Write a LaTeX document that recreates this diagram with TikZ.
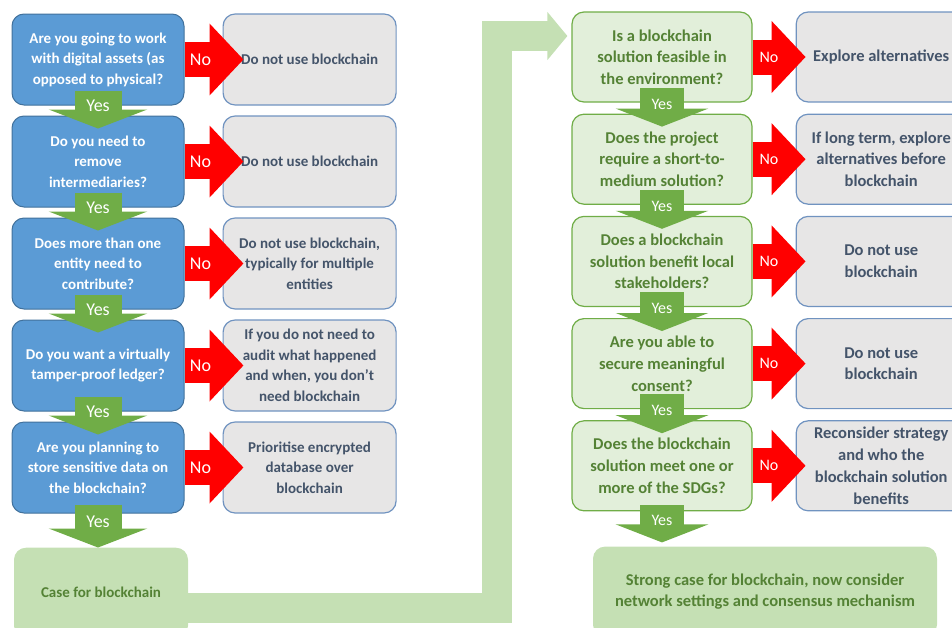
\documentclass[tikz,border=0pt]{standalone}
\usepackage{fontspec}
\setmainfont{Carlito}
\usetikzlibrary{arrows.meta, positioning, calc}
\usepackage{xcolor}
\definecolor{qBlue}{HTML}{5B9BD5}
\definecolor{qBlueLine}{HTML}{41719C}
\definecolor{outGray}{HTML}{E7E6E6}
\definecolor{outLine}{HTML}{7093C0}
\definecolor{outText}{HTML}{44546A}
\definecolor{qGreen}{HTML}{E2EFDA}
\definecolor{qGreenLine}{HTML}{70AD47}
\definecolor{greenText}{HTML}{548235}
\definecolor{caseGreen}{HTML}{C5E0B4}
\definecolor{yesGreen}{HTML}{70AD47}
\tikzset{
    font=\fontsize{15}{20.5}\selectfont\bfseries,
    % Colors
    compBlue/.style={draw=qBlueLine, fill=qBlue, text=white},
    compGray/.style={draw=outLine, fill=outGray, text=outText},
    compGreen/.style={draw=qGreenLine, fill=qGreen, text=greenText},
    compCase/.style={fill=caseGreen, text=greenText},
    bigText/.style={font=\fontsize{16.5}{21.7}\selectfont\bfseries, inner sep=2pt},
    % Shapes
    quest/.style={rectangle, line width=1pt, rounded corners=12pt,
                  minimum width=172pt, minimum height=91pt, align=center, compBlue},
    outcome/.style={rectangle, line width=1.2pt, rounded corners=12pt,
                    minimum width=173pt, minimum height=91pt, align=center, compGray},
    outcomeR/.style={outcome, bigText, minimum width=170pt, minimum height=90pt},
    check/.style={rectangle, line width=1.2pt, rounded corners=12pt, bigText,
                  minimum width=180pt, minimum height=90pt, align=center, compGreen},
    result/.style={rectangle, rounded corners=12pt,
                   minimum height=90pt, align=center, compCase},
    % Flow & Labels
    noflow/.style={line width=35pt, red, -{Triangle[length=34pt, width=70pt]}},
    yesflow/.style={line width=47pt, yesGreen, -{Triangle[length=19pt, width=98pt]},
                    shorten <=-15pt, shorten >=-13pt},
    yesflowR/.style={yesflow, line width=44pt, -{Triangle[length=18pt, width=92pt]}},
    bigflow/.style={line width=30pt, caseGreen, -{Triangle[length=20pt, width=47pt]}},
    lbl/.style={text=white, font=\fontsize{18}{20}\selectfont\mdseries},
    lblR/.style={text=white, font=\fontsize{16}{18}\selectfont\mdseries}
}

\begin{document}
\begin{tikzpicture}[x=1pt, y=1pt, node distance=10pt and 38pt]
\useasboundingbox (0,0) rectangle (952,-627);

% left column
\node[quest] (q1) at (98,-59.5) {Are you going to work\\with digital assets (as\\opposed to physical?};
\node[quest, below=of q1] (q2) {Do you need to\\remove\\intermediaries?};
\node[quest, below=of q2] (q3) {Does more than one\\entity need to\\contribute?};
\node[quest, below=of q3] (q4) {Do you want a virtually\\tamper-proof ledger?};
\node[quest, below=of q4] (q5) {Are you planning to\\store sensitive data on\\the blockchain?};
\node[result, minimum width=174pt, below=34pt of q5, xshift=3pt] (case) {Case for blockchain};

\node[outcome, right=of q1] (n1) {Do not use blockchain};
\node[outcome, right=of q2] (n2) {Do not use blockchain};
\node[outcome, right=of q3] (n3) {Do not use blockchain,\\typically for multiple\\entities};
\node[outcome, right=of q4] (n4) {If you do not need to\\audit what happened\\and when, you don’t\\need blockchain};
\node[outcome, right=of q5] (n5) {Prioritise encrypted\\database over\\blockchain};

% right column
\node[check] (s1) at (662,-57) {Is a blockchain\\solution feasible in\\the environment?};
\node[check, below=11pt of s1] (s2) {Does the project\\require a short-to-\\medium solution?};
\node[check, below=11pt of s2] (s3) {Does a blockchain\\solution benefit local\\stakeholders?};
\node[check, below=11pt of s3] (s4) {Are you able to\\secure meaningful\\consent?};
\node[check, below=11pt of s4] (s5) {Does the blockchain\\solution meet one or\\more of the SDGs?};
\node[result, bigText, minimum width=344pt, below=35pt of s5, xshift=103pt] (strong) {Strong case for blockchain, now consider\\network settings and consensus mechanism};

\node[outcomeR, right=43pt of s1] (o1) {Explore alternatives};
\node[outcomeR, right=43pt of s2] (o2) {If long term, explore\\alternatives before\\blockchain};
\node[outcomeR, right=43pt of s3] (o3) {Do not use\\blockchain};
\node[outcomeR, right=43pt of s4] (o4) {Do not use\\blockchain};
\node[outcomeR, right=43pt of s5] (o5) {Reconsider strategy\\and who the\\blockchain solution\\benefits};

% No arrows
\draw[noflow, shorten >=-21pt] (q1) -- node[lbl, pos=0.42] {No} (n1);
\draw[noflow, shorten >=-21pt] (q2) -- node[lbl, pos=0.42] {No} (n2);
\draw[noflow, shorten >=-21pt] (q3) -- node[lbl, pos=0.42] {No} (n3);
\draw[noflow, shorten >=-21pt] (q4) -- node[lbl, pos=0.42] {No} (n4);
\draw[noflow, shorten >=-21pt] (q5) -- node[lbl, pos=0.42] {No} (n5);
\draw[noflow, shorten >=-10pt] (s1) -- node[lblR, pos=0.38] {No} (o1);
\draw[noflow, shorten >=-10pt] (s2) -- node[lblR, pos=0.38] {No} (o2);
\draw[noflow, shorten >=-10pt] (s3) -- node[lblR, pos=0.38] {No} (o3);
\draw[noflow, shorten >=-10pt] (s4) -- node[lblR, pos=0.38] {No} (o4);
\draw[noflow, shorten >=-10pt] (s5) -- node[lblR, pos=0.38] {No} (o5);

% Yes arrows
\draw[yesflow] (q1) -- node[lbl, yshift=5pt] {Yes} (q2);
\draw[yesflow] (q2) -- node[lbl, yshift=5pt] {Yes} (q3);
\draw[yesflow] (q3) -- node[lbl, yshift=5pt] {Yes} (q4);
\draw[yesflow] (q4) -- node[lbl, yshift=5pt] {Yes} (q5);
\draw[yesflow, shorten <=-9pt, shorten >=0pt] (q5.south) -- node[lbl, pos=0.25] {Yes} (q5.south |- case.north);
\draw[yesflowR] (s1) -- node[lblR, yshift=4pt] {Yes} (s2);
\draw[yesflowR] (s2) -- node[lblR, yshift=4pt] {Yes} (s3);
\draw[yesflowR] (s3) -- node[lblR, yshift=4pt] {Yes} (s4);
\draw[yesflowR] (s4) -- node[lblR, yshift=4pt] {Yes} (s5);
\draw[yesflowR, shorten <=-6pt, shorten >=4pt] (s5.south) -- node[lblR, pos=0.25] {Yes} (s5.south |- strong.north);

% case to second stage
\draw[bigflow] ([yshift=-15pt]case.east) -| ([shift={(-74pt,21pt)}]s1.west)
    -- ([shift={(-4pt,21pt)}]s1.west);

\end{tikzpicture}
\end{document}
